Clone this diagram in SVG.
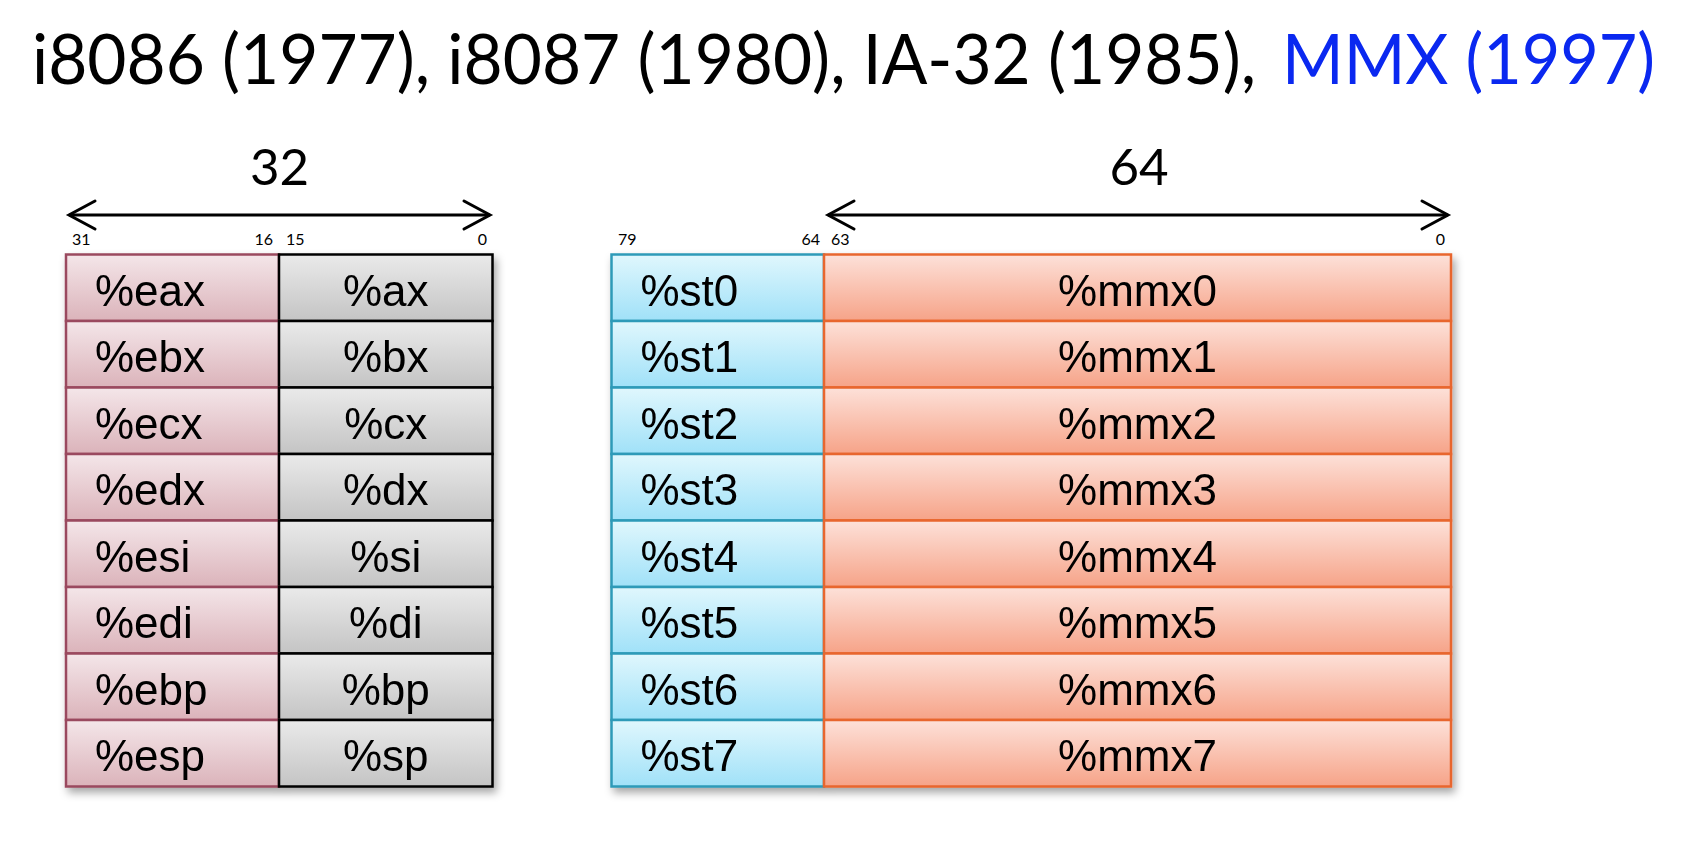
<svg xmlns="http://www.w3.org/2000/svg" width="1700" height="852" viewBox="0 0 1700 852">
<style>
.title{font-family:Lato,"Open Sans","Liberation Sans",sans-serif;font-size:69px;fill:#000}
.blue{fill:#0A28F0}
.width{font-family:Lato,"Open Sans","Liberation Sans",sans-serif;font-size:51px;fill:#000;text-anchor:middle}
.bit{font-family:Lato,"Open Sans","Liberation Sans",sans-serif;font-size:16px;fill:#000}
.end{text-anchor:end}
.reg{font-family:"Liberation Sans",Arial,sans-serif;font-size:44px;fill:#000}
.mid{text-anchor:middle}
.pink{fill:url(#gPink);stroke:#9A4A5E;stroke-width:2.5}
.gray{fill:url(#gGray);stroke:#000;stroke-width:2.5}
.cyan{fill:url(#gCyan);stroke:#2E9AB8;stroke-width:2.5}
.orng{fill:url(#gOrng);stroke:#E8662E;stroke-width:2.5}
.arrow{stroke:#000;stroke-width:3;fill:none;marker-start:url(#chev);marker-end:url(#chev)}
</style>
<defs>
<linearGradient id="gPink" x1="0" y1="0" x2="0" y2="1"><stop offset="0" stop-color="#F4E6E9"/><stop offset="1" stop-color="#DBB3BA"/></linearGradient>
<linearGradient id="gGray" x1="0" y1="0" x2="0" y2="1"><stop offset="0" stop-color="#EAEAEA"/><stop offset="1" stop-color="#C4C4C4"/></linearGradient>
<linearGradient id="gCyan" x1="0" y1="0" x2="0" y2="1"><stop offset="0" stop-color="#E0F7FD"/><stop offset="1" stop-color="#A0E1F8"/></linearGradient>
<linearGradient id="gOrng" x1="0" y1="0" x2="0" y2="1"><stop offset="0" stop-color="#FDE1D9"/><stop offset="1" stop-color="#F6A388"/></linearGradient>
<filter id="shadow" x="-5%" y="-5%" width="112%" height="115%"><feDropShadow dx="3" dy="5" stdDeviation="4" flood-color="#000" flood-opacity="0.35"/></filter>
<marker id="chev" markerUnits="userSpaceOnUse" viewBox="-30 -18 34 36" refX="0" refY="0" markerWidth="34" markerHeight="36" orient="auto-start-reverse" overflow="visible">
<path d="M-26,-14 L0,0 L-26,14" fill="none" stroke="#000" stroke-width="3" stroke-linecap="round" stroke-linejoin="miter"/>
</marker>
</defs>

<g id="title">
<text class="title" x="32" y="84" textLength="1224" lengthAdjust="spacingAndGlyphs">i8086 (1977), i8087 (1980), IA-32 (1985),</text>
<text class="title blue" x="1282" y="84" textLength="373" lengthAdjust="spacingAndGlyphs">MMX (1997)</text>
</g>

<g id="connectors">
<line class="arrow" x1="69" y1="215" x2="490" y2="215"/>
<line class="arrow" x1="828" y1="215" x2="1448" y2="215"/>
</g>

<g id="width-labels">
<text class="width" x="279.5" y="185">32</text>
<text class="width" x="1139" y="185">64</text>
</g>

<g id="bit-labels">
<text class="bit" x="72" y="245">31</text>
<text class="bit end" x="273" y="245">16</text>
<text class="bit" x="286" y="245">15</text>
<text class="bit end" x="487" y="245">0</text>
<text class="bit" x="618" y="245">79</text>
<text class="bit end" x="820" y="245">64</text>
<text class="bit" x="831" y="245">63</text>
<text class="bit end" x="1445" y="245">0</text>
</g>

<g id="int-registers" filter="url(#shadow)">
<g id="eax"><rect class="pink" x="66" y="254.5" width="213" height="66.5"/><rect class="gray" x="279" y="254.5" width="213.5" height="66.5"/><text class="reg" x="95" y="305.5">%eax</text><text class="reg mid" x="385.75" y="305.5">%ax</text></g>
<g id="ebx"><rect class="pink" x="66" y="321" width="213" height="66.5"/><rect class="gray" x="279" y="321" width="213.5" height="66.5"/><text class="reg" x="95" y="372">%ebx</text><text class="reg mid" x="385.75" y="372">%bx</text></g>
<g id="ecx"><rect class="pink" x="66" y="387.5" width="213" height="66.5"/><rect class="gray" x="279" y="387.5" width="213.5" height="66.5"/><text class="reg" x="95" y="438.5">%ecx</text><text class="reg mid" x="385.75" y="438.5">%cx</text></g>
<g id="edx"><rect class="pink" x="66" y="454" width="213" height="66.5"/><rect class="gray" x="279" y="454" width="213.5" height="66.5"/><text class="reg" x="95" y="505">%edx</text><text class="reg mid" x="385.75" y="505">%dx</text></g>
<g id="esi"><rect class="pink" x="66" y="520.5" width="213" height="66.5"/><rect class="gray" x="279" y="520.5" width="213.5" height="66.5"/><text class="reg" x="95" y="571.5">%esi</text><text class="reg mid" x="385.75" y="571.5">%si</text></g>
<g id="edi"><rect class="pink" x="66" y="587" width="213" height="66.5"/><rect class="gray" x="279" y="587" width="213.5" height="66.5"/><text class="reg" x="95" y="638">%edi</text><text class="reg mid" x="385.75" y="638">%di</text></g>
<g id="ebp"><rect class="pink" x="66" y="653.5" width="213" height="66.5"/><rect class="gray" x="279" y="653.5" width="213.5" height="66.5"/><text class="reg" x="95" y="704.5">%ebp</text><text class="reg mid" x="385.75" y="704.5">%bp</text></g>
<g id="esp"><rect class="pink" x="66" y="720" width="213" height="66.5"/><rect class="gray" x="279" y="720" width="213.5" height="66.5"/><text class="reg" x="95" y="771">%esp</text><text class="reg mid" x="385.75" y="771">%sp</text></g>
</g>

<g id="fp-registers" filter="url(#shadow)">
<g id="st0"><rect class="cyan" x="611.5" y="254.5" width="212.5" height="66.5"/><rect class="orng" x="824" y="254.5" width="627" height="66.5"/><text class="reg" x="640.5" y="305.5">%st0</text><text class="reg mid" x="1137.5" y="305.5">%mmx0</text></g>
<g id="st1"><rect class="cyan" x="611.5" y="321" width="212.5" height="66.5"/><rect class="orng" x="824" y="321" width="627" height="66.5"/><text class="reg" x="640.5" y="372">%st1</text><text class="reg mid" x="1137.5" y="372">%mmx1</text></g>
<g id="st2"><rect class="cyan" x="611.5" y="387.5" width="212.5" height="66.5"/><rect class="orng" x="824" y="387.5" width="627" height="66.5"/><text class="reg" x="640.5" y="438.5">%st2</text><text class="reg mid" x="1137.5" y="438.5">%mmx2</text></g>
<g id="st3"><rect class="cyan" x="611.5" y="454" width="212.5" height="66.5"/><rect class="orng" x="824" y="454" width="627" height="66.5"/><text class="reg" x="640.5" y="505">%st3</text><text class="reg mid" x="1137.5" y="505">%mmx3</text></g>
<g id="st4"><rect class="cyan" x="611.5" y="520.5" width="212.5" height="66.5"/><rect class="orng" x="824" y="520.5" width="627" height="66.5"/><text class="reg" x="640.5" y="571.5">%st4</text><text class="reg mid" x="1137.5" y="571.5">%mmx4</text></g>
<g id="st5"><rect class="cyan" x="611.5" y="587" width="212.5" height="66.5"/><rect class="orng" x="824" y="587" width="627" height="66.5"/><text class="reg" x="640.5" y="638">%st5</text><text class="reg mid" x="1137.5" y="638">%mmx5</text></g>
<g id="st6"><rect class="cyan" x="611.5" y="653.5" width="212.5" height="66.5"/><rect class="orng" x="824" y="653.5" width="627" height="66.5"/><text class="reg" x="640.5" y="704.5">%st6</text><text class="reg mid" x="1137.5" y="704.5">%mmx6</text></g>
<g id="st7"><rect class="cyan" x="611.5" y="720" width="212.5" height="66.5"/><rect class="orng" x="824" y="720" width="627" height="66.5"/><text class="reg" x="640.5" y="771">%st7</text><text class="reg mid" x="1137.5" y="771">%mmx7</text></g>
</g>
</svg>
